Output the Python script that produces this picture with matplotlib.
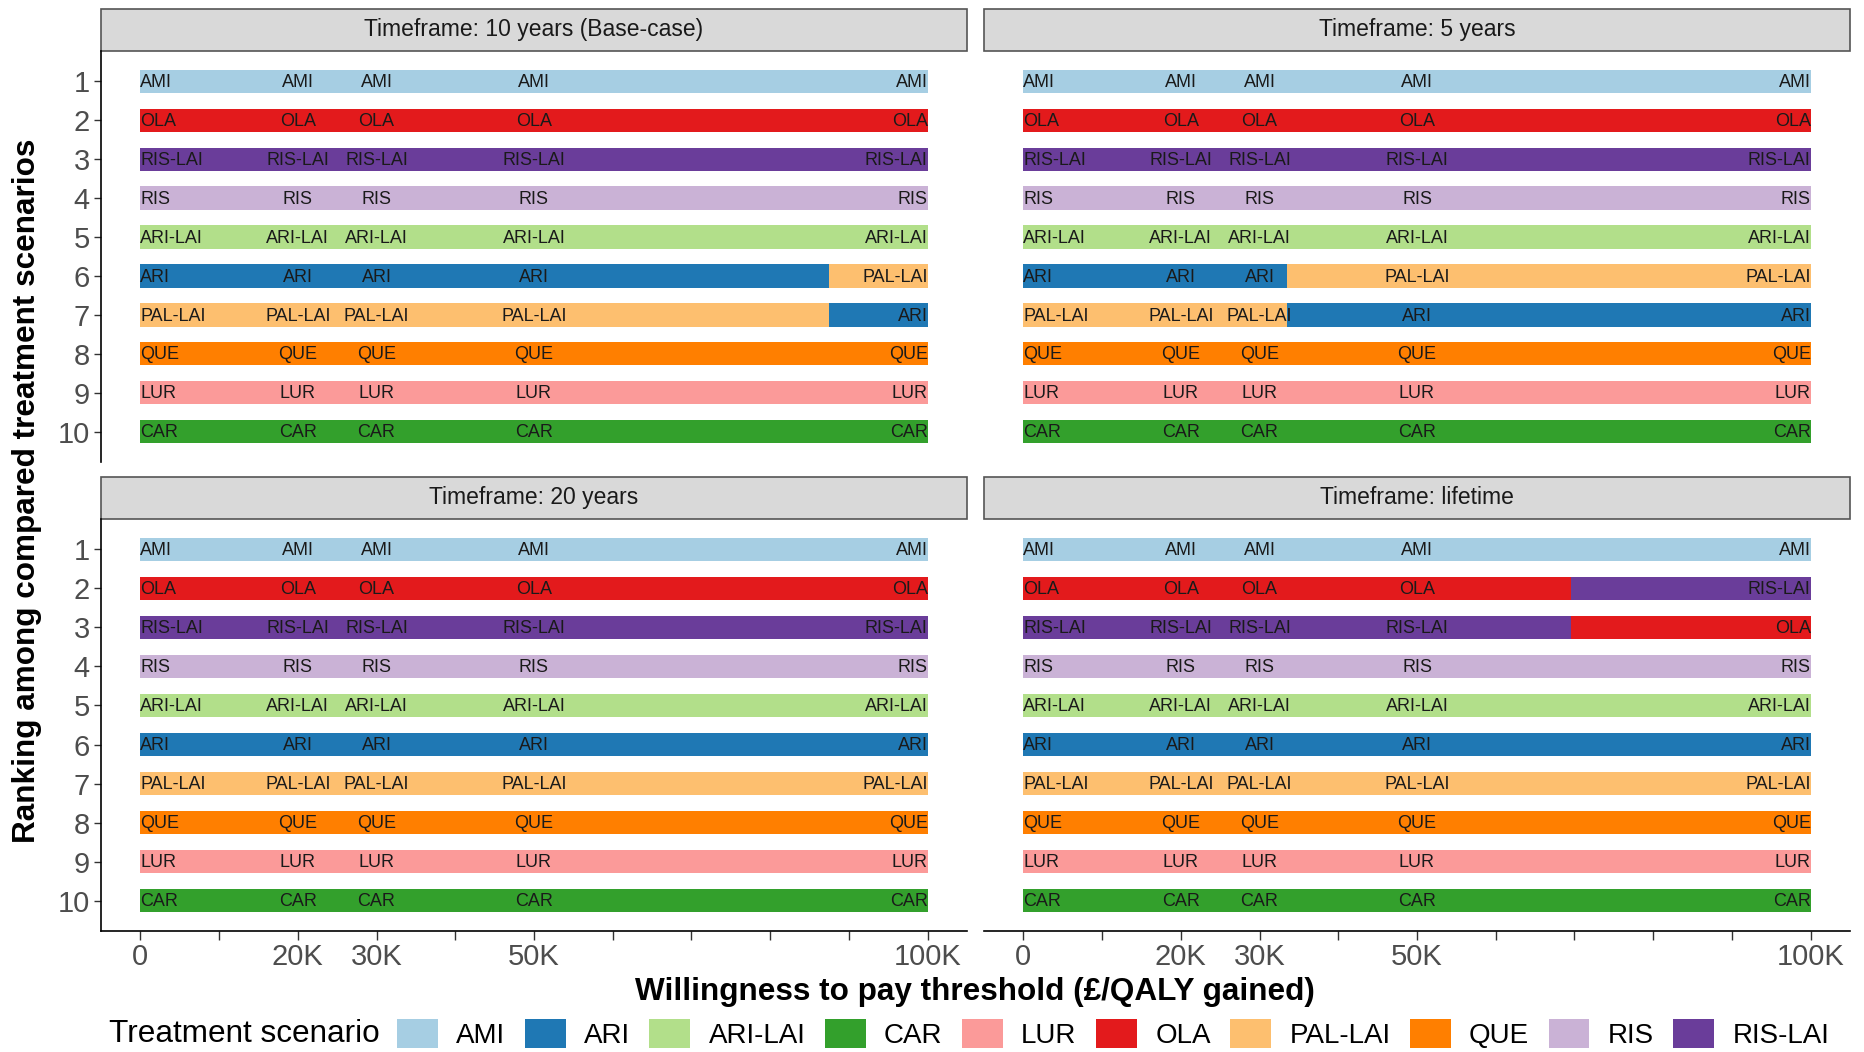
import matplotlib.pyplot as plt
from matplotlib.patches import Rectangle, Patch

plt.rcParams['font.family'] = ['Liberation Sans', 'DejaVu Sans']

# treatment colours (ggplot "Paired" palette)
treatments = ["AMI", "ARI", "ARI-LAI", "CAR", "LUR", "OLA", "PAL-LAI", "QUE", "RIS", "RIS-LAI"]
colors = ["#A6CEE3", "#1F78B4", "#B2DF8A", "#33A02C", "#FB9A99",
          "#E31A1C", "#FDBF6F", "#FF7F00", "#CAB2D6", "#6A3D9A"]
col = dict(zip(treatments, colors))

ranks = [1, 2, 3, 4, 5, 6, 7, 8, 9, 10]
wtp_min = 0
wtp_max = 100000
label_wtp = [0, 20000, 30000, 50000, 100000]
tick_wtp = [0, 10000, 20000, 30000, 40000, 50000, 60000, 70000, 80000, 90000, 100000]
tick_labels = ["0", "", "20K", "30K", "", "50K", "", "", "", "", "100K"]

base_rank = ["AMI", "OLA", "RIS-LAI", "RIS", "ARI-LAI", "ARI", "PAL-LAI", "QUE", "LUR", "CAR"]
swap_ari = ["AMI", "OLA", "RIS-LAI", "RIS", "ARI-LAI", "PAL-LAI", "ARI", "QUE", "LUR", "CAR"]
swap_ola = ["AMI", "RIS-LAI", "OLA", "RIS", "ARI-LAI", "ARI", "PAL-LAI", "QUE", "LUR", "CAR"]

# ranking changes along the WTP axis for each timeframe
titles = ["Timeframe: 10 years (Base-case)", "Timeframe: 5 years",
          "Timeframe: 20 years", "Timeframe: lifetime"]
breaks_10y = [0, 87500, 100000]
breaks_5y = [0, 33500, 100000]
breaks_20y = [0, 100000]
breaks_life = [0, 69500, 100000]
rankings_10y = [base_rank, swap_ari]
rankings_5y = [base_rank, swap_ari]
rankings_20y = [base_rank]
rankings_life = [base_rank, swap_ola]

facet_breaks = [breaks_10y, breaks_5y, breaks_20y, breaks_life]
facet_rankings = [rankings_10y, rankings_5y, rankings_20y, rankings_life]

W, H = 1865, 1052
fig = plt.figure(figsize=(W / 100, H / 100), dpi=100)

# panel boxes in pixels: (left, top, right, bottom)
boxes = [(101, 51, 967, 462), (984, 51, 1850, 462),
         (101, 519, 967, 931), (984, 519, 1850, 931)]
strip_h = 42

for k in range(4):
    l, t, r, b = boxes[k]
    ax = fig.add_axes([l / W, 1 - b / H, (r - l) / W, (b - t) / H])
    brk = facet_breaks[k]
    rks = facet_rankings[k]
    for s in range(len(rks)):
        for i in range(len(ranks)):
            ax.barh(ranks[i], brk[s + 1] - brk[s], left=brk[s], height=0.6,
                    color=col[rks[s][i]], edgecolor="none")
    for x in label_wtp:
        seg = 0
        for s in range(len(rks)):
            if brk[s] <= x:
                seg = s
        if x == wtp_min:
            ha = "left"
        elif x == wtp_max:
            ha = "right"
        else:
            ha = "center"
        for i in range(len(ranks)):
            ax.text(x, ranks[i] + 0.03, rks[seg][i], ha=ha, va="center", fontsize=13, color="#1a1a1a")

    ax.set_xlim(-5000, 105000)
    ax.set_ylim(10.78, 0.22)
    for sp in ["top", "right", "left", "bottom"]:
        ax.spines[sp].set_visible(False)
    ax.set_xticks(tick_wtp)
    ax.set_yticks(ranks)
    if k % 2 == 0:
        ax.spines["left"].set_visible(True)
        ax.spines["left"].set_linewidth(1.2)
        ax.set_yticklabels([str(v) for v in ranks], fontsize=21, color="#4d4d4d")
        ax.tick_params(axis="y", length=5, width=1.0, color="#333333", pad=3)
    else:
        ax.tick_params(axis="y", left=False, labelleft=False)
    if k >= 2:
        ax.spines["bottom"].set_visible(True)
        ax.spines["bottom"].set_linewidth(1.2)
        ax.set_xticklabels(tick_labels, fontsize=21, color="#4d4d4d")
        ax.tick_params(axis="x", length=6.5, width=1.0, color="#333333", pad=2)
    else:
        ax.tick_params(axis="x", bottom=False, labelbottom=False)

    # facet strip
    sh = strip_h / (b - t)
    ax.add_patch(Rectangle((0, 1.0), 1, sh, transform=ax.transAxes, clip_on=False,
                           facecolor="#d9d9d9", edgecolor="#555555", linewidth=1.2))
    ax.text(0.5, 1 + sh / 2, titles[k], transform=ax.transAxes, ha="center", va="center",
            fontsize=16.5, color="#1a1a1a")

fig.text(975 / W, 1 - 992 / H, "Willingness to pay threshold (£/QALY gained)",
         ha="center", va="center", fontsize=22.7, fontweight="bold")
fig.text(27 / W, 1 - 491 / H, "Ranking among compared treatment scenarios",
         ha="center", va="center", rotation=90, fontsize=22.7, fontweight="bold")

fig.text(109 / W, 1 - 1034 / H, "Treatment scenario", ha="left", va="center", fontsize=22.7)
handles = [Patch(facecolor=col[t], edgecolor="none", label=t) for t in treatments]
fig.legend(handles=handles, loc="center left", bbox_to_anchor=(397 / W, 1 - 1034 / H),
           ncol=10, frameon=False, fontsize=20, handlelength=1.47, handleheight=1.25,
           handletextpad=0.66, columnspacing=0.7, borderpad=0, borderaxespad=0)

fig.savefig("out.png", dpi=100)
